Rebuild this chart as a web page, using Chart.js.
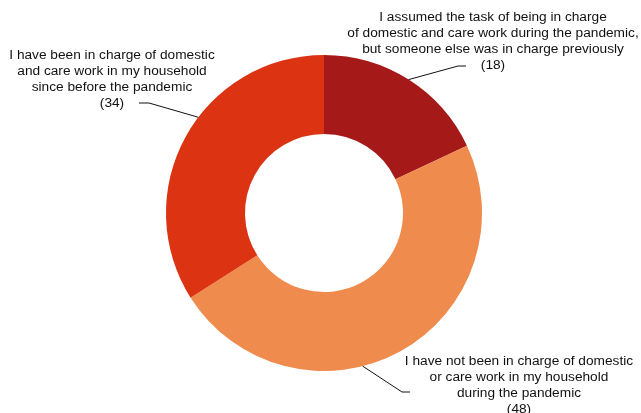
<!DOCTYPE html>
<html>
<head>
<meta charset="utf-8">
<script src="https://cdn.jsdelivr.net/npm/chart.js@4"></script>
<style>
  html, body { margin: 0; padding: 0; background: #fff; }
  #wrap { width: 641px; height: 413px; }
</style>
</head>
<body>
<div id="wrap"><canvas id="careChart" width="641" height="413"></canvas></div>
<script>
const categories = [
  ["I assumed the task of being in charge", "of domestic and care work during the pandemic,", "but someone else was in charge previously"],
  ["I have not been in charge of domestic", "or care work in my household", "during the pandemic"],
  ["I have been in charge of domestic", "and care work in my household", "since before the pandemic"]
];
const values = [18, 48, 34];
const colors = ["#a51a19", "#f08b4e", "#dc3413"];

// where each label sits and how its leader line bends (layout only)
const labelLayout = [
  { textX: 493, topY: 17, angleShift: 0, elbow: [458, 66], end: [466, 66] },
  { textX: 519, topY: 361, angleShift: 14.6, elbow: [402, 392], end: [410, 392] },
  { textX: 112, topY: 55, angleShift: 8.5, elbow: [149, 103], end: [139, 103] }
];

const leaderLabels = {
  id: "leaderLabels",
  afterDraw(chart) {
    const ctx = chart.ctx;
    const arcs = chart.getDatasetMeta(0).data;
    ctx.save();
    ctx.font = "13.7px 'Liberation Sans', Arial, sans-serif";
    ctx.fillStyle = "#111";
    ctx.strokeStyle = "#111";
    ctx.lineWidth = 1;
    ctx.textAlign = "center";
    ctx.textBaseline = "middle";
    arcs.forEach((arc, i) => {
      const p = arc.getProps(["x", "y", "startAngle", "endAngle", "outerRadius"], true);
      const lay = labelLayout[i];
      const a = (p.startAngle + p.endAngle) / 2 + lay.angleShift * Math.PI / 180;
      const sx = p.x + p.outerRadius * Math.cos(a);
      const sy = p.y + p.outerRadius * Math.sin(a);
      ctx.beginPath();
      ctx.moveTo(sx, sy);
      ctx.lineTo(lay.elbow[0], lay.elbow[1]);
      ctx.lineTo(lay.end[0], lay.end[1]);
      ctx.stroke();
      const lines = categories[i].concat(["(" + values[i] + ")"]);
      lines.forEach((t, k) => ctx.fillText(t, lay.textX, lay.topY + k * 16));
    });
    ctx.restore();
  }
};

new Chart(document.getElementById("careChart").getContext("2d"), {
  type: "doughnut",
  data: {
    labels: categories.map(c => c.join(" ")),
    datasets: [
      {
        data: values,
        backgroundColor: colors,
        borderWidth: 0,
        hoverOffset: 0,
        offset: 0
      }
    ]
  },
  options: {
    responsive: false,
    animation: false,
    cutout: "50%",
    layout: { padding: { top: 55, bottom: 42, left: 7, right: 0 } },
    plugins: {
      legend: { display: false },
      tooltip: { enabled: false }
    }
  },
  plugins: [leaderLabels]
});
</script>
</body>
</html>
